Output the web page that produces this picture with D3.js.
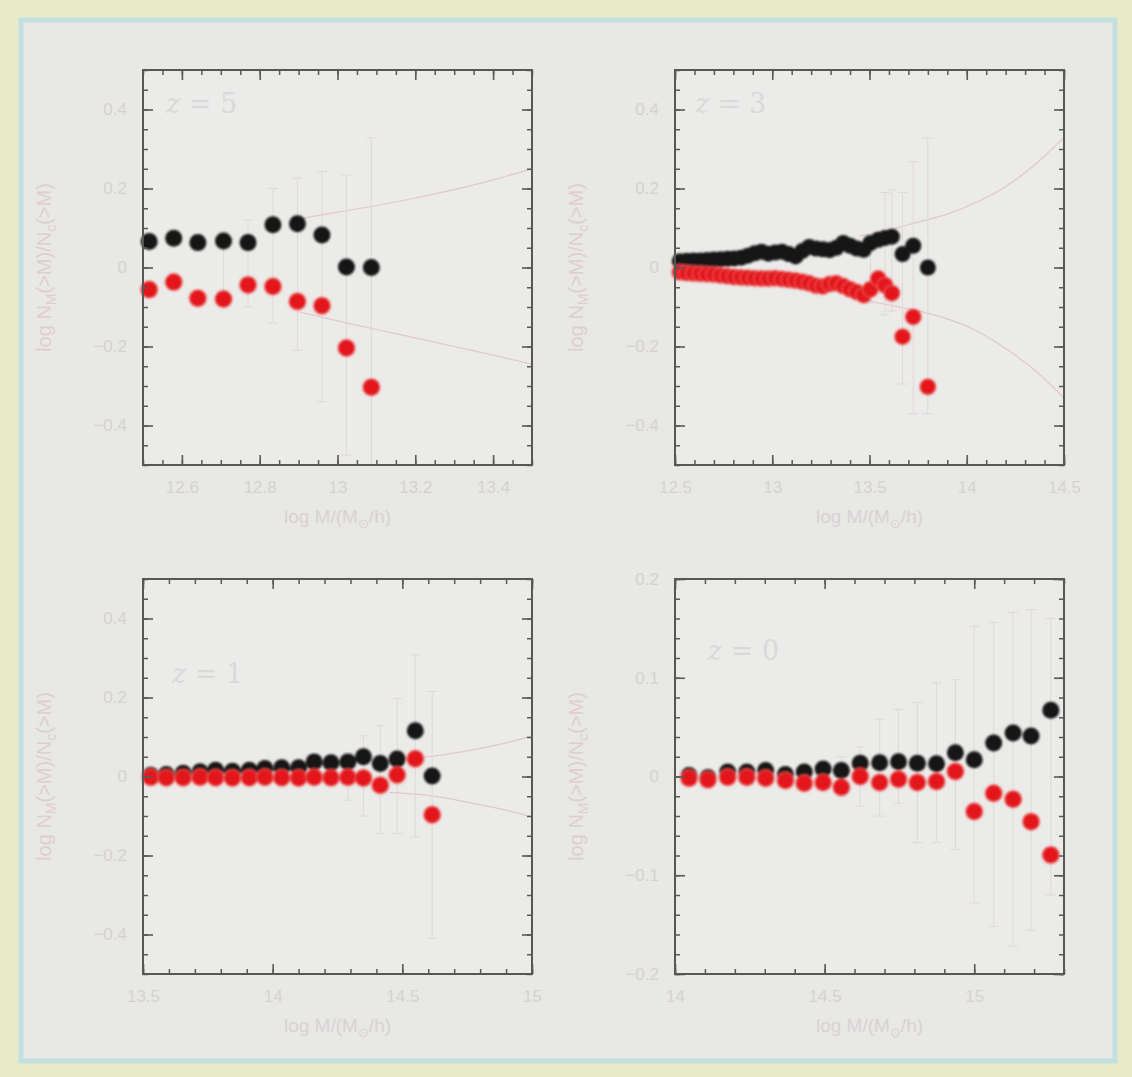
<!DOCTYPE html>
<html>
<head>
<meta charset="utf-8">
<script src="https://cdn.jsdelivr.net/npm/d3@7"></script>
<style>
  body { margin: 0; background: #e8eac8; }
  svg { display: block; }
</style>
</head>
<body>
<svg id="fig"></svg>
<script>
// ---- data ----
// z = 5
const z5Mass  = [12.516, 12.579, 12.641, 12.707, 12.770, 12.834, 12.897, 12.960, 13.023, 13.087];
const z5Black = [0.066, 0.074, 0.063, 0.067, 0.063, 0.108, 0.111, 0.082, 0.001, 0.0];
const z5Red   = [-0.056, -0.037, -0.078, -0.080, -0.044, -0.048, -0.086, -0.097, -0.204, -0.303];
const z5ErrMass = [12.707, 12.770, 12.834, 12.897, 12.960, 13.023, 13.087];
const z5ErrLo   = [-0.08, -0.10, -0.14, -0.21, -0.34, -0.475, -0.5];
const z5ErrHi   = [0.09, 0.12, 0.20, 0.226, 0.243, 0.234, 0.328];
const z5EnvMass = [12.9, 13.0, 13.1, 13.2, 13.3, 13.4, 13.5];
const z5EnvUp   = [0.123, 0.14, 0.157, 0.176, 0.197, 0.222, 0.25];
const z5EnvDown = [-0.112, -0.135, -0.157, -0.178, -0.2, -0.222, -0.245];
const z5XTicks = [12.6, 12.8, 13, 13.2, 13.4];
const z5YTicks = [-0.4, -0.2, 0, 0.2, 0.4];

// z = 3
const z3Mass = [12.525, 12.56, 12.595, 12.63, 12.665, 12.70, 12.735, 12.77, 12.805, 12.84,
                12.875, 12.91, 12.945, 12.98, 13.015, 13.05, 13.085, 13.12, 13.155, 13.19,
                13.225, 13.26, 13.295, 13.33, 13.365, 13.40, 13.435, 13.47, 13.505, 13.545,
                13.58, 13.615, 13.67, 13.725, 13.80];
const z3Black = [0.016, 0.017, 0.018, 0.018, 0.019, 0.02, 0.021, 0.022, 0.023, 0.025,
                 0.03, 0.036, 0.04, 0.035, 0.038, 0.04, 0.034, 0.028, 0.042, 0.052,
                 0.048, 0.046, 0.044, 0.05, 0.062, 0.055, 0.048, 0.045, 0.062, 0.07,
                 0.075, 0.078, 0.034, 0.055, 0.0];
const z3Red = [-0.012, -0.014, -0.015, -0.016, -0.017, -0.018, -0.02, -0.022, -0.024, -0.025,
               -0.026, -0.027, -0.028, -0.028, -0.027, -0.029, -0.031, -0.033, -0.036, -0.04,
               -0.046, -0.048, -0.042, -0.04, -0.047, -0.055, -0.062, -0.07, -0.055, -0.028,
               -0.045, -0.065, -0.175, -0.125, -0.302];
const z3ErrMass = [13.505, 13.58, 13.615, 13.67, 13.725, 13.80];
const z3ErrLo   = [-0.09, -0.12, -0.11, -0.295, -0.37, -0.37];
const z3ErrHi   = [0.06, 0.19, 0.196, 0.19, 0.268, 0.328];
const z3EnvMass = [13.45, 13.6, 13.75, 13.9, 14.05, 14.2, 14.35, 14.5];
const z3EnvUp   = [0.08, 0.095, 0.115, 0.135, 0.165, 0.205, 0.26, 0.33];
const z3EnvDown = [-0.08, -0.095, -0.11, -0.13, -0.16, -0.205, -0.26, -0.33];
const z3XTicks = [12.5, 13, 13.5, 14, 14.5];
const z3YTicks = [-0.4, -0.2, 0, 0.2, 0.4];

// z = 1
const z1Mass = [13.53, 13.59, 13.655, 13.72, 13.78, 13.845, 13.91, 13.97, 14.035, 14.10,
                14.16, 14.225, 14.29, 14.35, 14.415, 14.48, 14.55, 14.615];
const z1Black = [0.003, 0.005, 0.008, 0.012, 0.016, 0.013, 0.016, 0.02, 0.022, 0.022,
                 0.037, 0.035, 0.037, 0.05, 0.033, 0.044, 0.116, 0.001];
const z1Red = [-0.002, -0.003, -0.003, -0.002, -0.003, -0.004, -0.003, -0.002, -0.003, -0.004,
               -0.002, -0.003, -0.002, -0.004, -0.022, 0.004, 0.045, -0.097];
const z1ErrMass = [14.29, 14.35, 14.415, 14.48, 14.55, 14.615];
const z1ErrLo   = [-0.06, -0.10, -0.144, -0.144, -0.153, -0.41];
const z1ErrHi   = [0.06, 0.103, 0.129, 0.197, 0.308, 0.215];
const z1EnvMass = [14.45, 14.6, 14.75, 14.9, 15.0];
const z1EnvUp   = [0.045, 0.05, 0.065, 0.085, 0.103];
const z1EnvDown = [-0.04, -0.048, -0.065, -0.085, -0.102];
const z1XTicks = [13.5, 14, 14.5, 15];
const z1YTicks = [-0.4, -0.2, 0, 0.2, 0.4];

// z = 0
const z0Mass = [14.047, 14.11, 14.176, 14.24, 14.303, 14.369, 14.432, 14.495, 14.556, 14.619,
                14.684, 14.747, 14.81, 14.874, 14.937, 15.0, 15.065, 15.13, 15.19, 15.256];
const z0Black = [0.001, -0.001, 0.0045, 0.0045, 0.006, 0.002, 0.0045, 0.0075, 0.006, 0.0135,
                 0.014, 0.015, 0.0135, 0.013, 0.024, 0.017, 0.034, 0.044, 0.041, 0.067];
const z0Red = [-0.0017, -0.0034, -0.0007, -0.0007, -0.0017, -0.004, -0.0068, -0.006, -0.011, 0.0,
               -0.006, -0.0027, -0.006, -0.005, 0.005, -0.0355, -0.017, -0.023, -0.0457, -0.0795];
const z0ErrMass = [14.556, 14.619, 14.684, 14.747, 14.81, 14.874, 14.937, 15.0, 15.065, 15.13, 15.19, 15.256];
const z0ErrLo   = [-0.02, -0.03, -0.04, -0.027, -0.067, -0.067, -0.074, -0.128, -0.152, -0.172, -0.156, -0.12];
const z0ErrHi   = [0.02, 0.03, 0.058, 0.068, 0.075, 0.095, 0.098, 0.152, 0.156, 0.166, 0.169, 0.16];
const z0XTicks = [14, 14.5, 15];
const z0YTicks = [-0.2, -0.1, 0, 0.1, 0.2];

const panels = [
  { label: '5', mass: z5Mass, black: z5Black, red: z5Red,
    errMass: z5ErrMass, errLo: z5ErrLo, errHi: z5ErrHi,
    envMass: z5EnvMass, envUp: z5EnvUp, envDown: z5EnvDown,
    xTicks: z5XTicks, yTicks: z5YTicks,
    xDomain: [12.5, 13.5], yDomain: [-0.5, 0.5], xMinor: 0.05, yMinor: 0.05,
    left: 143, top: 70, r: 8.5, labelPos: [166, 113] },
  { label: '3', mass: z3Mass, black: z3Black, red: z3Red,
    errMass: z3ErrMass, errLo: z3ErrLo, errHi: z3ErrHi,
    envMass: z3EnvMass, envUp: z3EnvUp, envDown: z3EnvDown,
    xTicks: z3XTicks, yTicks: z3YTicks,
    xDomain: [12.5, 14.5], yDomain: [-0.5, 0.5], xMinor: 0.1, yMinor: 0.05,
    left: 675, top: 70, r: 8, labelPos: [695, 113] },
  { label: '1', mass: z1Mass, black: z1Black, red: z1Red,
    errMass: z1ErrMass, errLo: z1ErrLo, errHi: z1ErrHi,
    envMass: z1EnvMass, envUp: z1EnvUp, envDown: z1EnvDown,
    xTicks: z1XTicks, yTicks: z1YTicks,
    xDomain: [13.5, 15], yDomain: [-0.5, 0.5], xMinor: 0.1, yMinor: 0.05,
    left: 143, top: 579, r: 8.5, labelPos: [172, 683] },
  { label: '0', mass: z0Mass, black: z0Black, red: z0Red,
    errMass: z0ErrMass, errLo: z0ErrLo, errHi: z0ErrHi,
    envMass: [], envUp: [], envDown: [],
    xTicks: z0XTicks, yTicks: z0YTicks,
    xDomain: [14, 15.3], yDomain: [-0.2, 0.2], xMinor: 0.1, yMinor: 0.02,
    left: 675, top: 579, r: 8.5, labelPos: [708, 660] }
];

const W = 1132, H = 1077;
const PW = 389, PH = 395;
const faint = '#d7d1d4';
const fontFam = "'Liberation Sans', Arial, sans-serif";

const svg = d3.select('#fig').attr('width', W).attr('height', H);

const defs = svg.append('defs');
defs.append('filter').attr('id', 'soft')
  .attr('x', '-20%').attr('y', '-20%').attr('width', '140%').attr('height', '140%')
  .append('feGaussianBlur').attr('stdDeviation', 0.8);

// page frame
svg.append('rect').attr('width', W).attr('height', H).attr('fill', '#e8eac8');
svg.append('rect')
  .attr('x', 21).attr('y', 20).attr('width', 1094).attr('height', 1041)
  .attr('fill', '#e8e8e4').attr('stroke', '#c3e0e1').attr('stroke-width', 5);

panels.forEach((p, k) => {
  const x = d3.scaleLinear().domain(p.xDomain).range([p.left, p.left + PW]);
  const y = d3.scaleLinear().domain(p.yDomain).range([p.top + PH, p.top]);
  const g = svg.append('g');

  g.append('rect')
    .attr('x', p.left).attr('y', p.top).attr('width', PW).attr('height', PH)
    .attr('fill', '#ebebe9');

  const clipId = 'clip' + k;
  defs.append('clipPath').attr('id', clipId)
    .append('rect').attr('x', p.left).attr('y', p.top).attr('width', PW).attr('height', PH);
  const inner = g.append('g').attr('clip-path', `url(#${clipId})`);

  // scatter envelope curves
  const env = p.envMass.map((m, i) => ({ m, up: p.envUp[i], down: p.envDown[i] }));
  if (env.length) {
    const lineUp = d3.line().x(d => x(d.m)).y(d => y(d.up)).curve(d3.curveMonotoneX);
    const lineDown = d3.line().x(d => x(d.m)).y(d => y(d.down)).curve(d3.curveMonotoneX);
    inner.append('path').datum(env).attr('d', lineUp)
      .attr('fill', 'none').attr('stroke', '#e4c6cd').attr('stroke-width', 1.2);
    inner.append('path').datum(env).attr('d', lineDown)
      .attr('fill', 'none').attr('stroke', '#e4c6cd').attr('stroke-width', 1.2);
  }

  // error bars
  const errs = p.errMass.map((m, i) => ({ m, lo: p.errLo[i], hi: p.errHi[i] }));
  const eb = inner.selectAll('.err').data(errs).enter().append('g').attr('class', 'err')
    .attr('stroke', '#e2d7da').attr('stroke-width', 1);
  eb.append('line')
    .attr('x1', d => x(d.m)).attr('x2', d => x(d.m))
    .attr('y1', d => y(d.lo)).attr('y2', d => y(d.hi));
  eb.append('line')
    .attr('x1', d => x(d.m) - 5).attr('x2', d => x(d.m) + 5)
    .attr('y1', d => y(d.hi)).attr('y2', d => y(d.hi));
  eb.append('line')
    .attr('x1', d => x(d.m) - 5).attr('x2', d => x(d.m) + 5)
    .attr('y1', d => y(d.lo)).attr('y2', d => y(d.lo));

  // points: black first, red on top
  const dots = g.append('g').attr('filter', 'url(#soft)');
  dots.selectAll('.blk').data(p.mass.map((m, i) => [m, p.black[i]])).enter()
    .append('circle').attr('class', 'blk')
    .attr('cx', d => x(d[0])).attr('cy', d => y(d[1])).attr('r', p.r)
    .attr('fill', '#161414');
  dots.selectAll('.red').data(p.mass.map((m, i) => [m, p.red[i]])).enter()
    .append('circle').attr('class', 'red')
    .attr('cx', d => x(d[0])).attr('cy', d => y(d[1])).attr('r', p.r)
    .attr('fill', '#e3161a').attr('stroke', 'rgba(240,110,110,0.45)').attr('stroke-width', 2);

  // axes, ticks pointing inward on all four sides
  const xMinorTicks = d3.range(p.xDomain[0], p.xDomain[1] + 1e-9, p.xMinor);
  const yMinorTicks = d3.range(p.yDomain[0], p.yDomain[1] + 1e-9, p.yMinor);
  const fmt = d3.format('~g');
  const axesSpec = [
    [d3.axisBottom(x), `translate(0,${p.top + PH})`, xMinorTicks, p.xTicks, true],
    [d3.axisTop(x), `translate(0,${p.top})`, xMinorTicks, p.xTicks, false],
    [d3.axisLeft(y), `translate(${p.left},0)`, yMinorTicks, p.yTicks, true],
    [d3.axisRight(y), `translate(${p.left + PW},0)`, yMinorTicks, p.yTicks, false]
  ];
  axesSpec.forEach(([ax, tr, minor, major, labelled]) => {
    g.append('g').attr('transform', tr)
      .call(ax.tickValues(minor).tickSize(-5).tickSizeOuter(0).tickFormat(''))
      .call(s => s.select('.domain').remove())
      .call(s => s.selectAll('line').attr('stroke', '#5a5858').attr('stroke-width', 1.5));
    const big = g.append('g').attr('transform', tr)
      .call(ax.tickValues(major).tickSize(-10).tickSizeOuter(0)
        .tickPadding(labelled ? 16 : 0)
        .tickFormat(labelled ? fmt : ''))
      .call(s => s.select('.domain').remove())
      .call(s => s.selectAll('line').attr('stroke', '#5a5858').attr('stroke-width', 1.6));
    big.selectAll('text')
      .attr('fill', faint).attr('font-size', 17).attr('font-family', fontFam);
  });

  // frame
  g.append('rect')
    .attr('x', p.left).attr('y', p.top).attr('width', PW).attr('height', PH)
    .attr('fill', 'none').attr('stroke', '#585656').attr('stroke-width', 2);

  // redshift label
  const zl = g.append('text')
    .attr('x', p.labelPos[0]).attr('y', p.labelPos[1])
    .attr('font-size', 27).attr('font-family', "'DejaVu Serif', serif")
    .attr('fill', '#dad8d8');
  zl.append('tspan').attr('font-style', 'italic').text('z');
  zl.append('tspan').text(' = ' + p.label);

  // x title
  const xt = g.append('text')
    .attr('x', p.left + PW / 2).attr('y', p.top + PH + 58)
    .attr('text-anchor', 'middle')
    .attr('font-size', 19).attr('font-family', fontFam).attr('fill', '#dad1d6');
  xt.append('tspan').text('log M/(M');
  xt.append('tspan').attr('font-size', 13).attr('dy', 5).text('\u2299');
  xt.append('tspan').attr('dy', -5).text('/h)');

  // y title
  const yt = g.append('text')
    .attr('transform', `translate(${p.left - 92},${p.top + PH / 2}) rotate(-90)`)
    .attr('text-anchor', 'middle')
    .attr('font-size', 20).attr('font-family', fontFam).attr('fill', '#e0cdd4');
  yt.append('tspan').text('log N');
  yt.append('tspan').attr('font-size', 14).attr('dy', 5).text('M');
  yt.append('tspan').attr('dy', -5).text('(>M)/N');
  yt.append('tspan').attr('font-size', 14).attr('dy', 5).text('c');
  yt.append('tspan').attr('dy', -5).text('(>M)');
});
</script>
</body>
</html>
